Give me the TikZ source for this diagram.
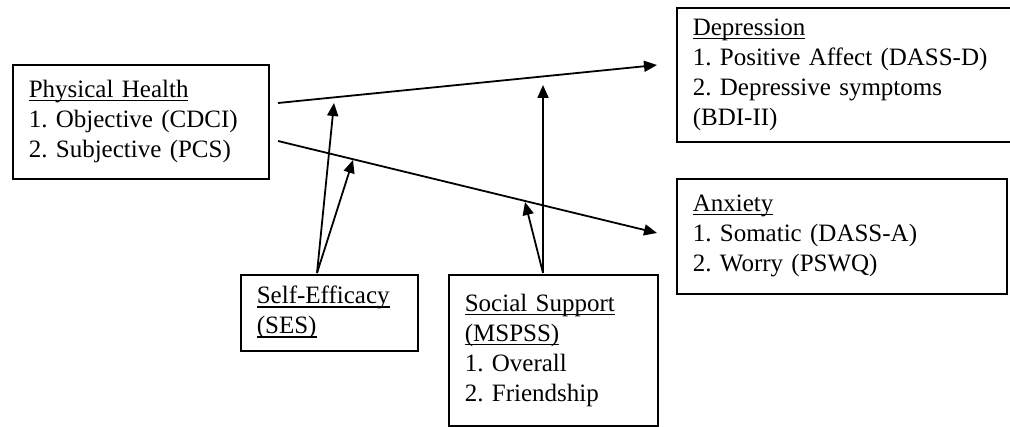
\documentclass[tikz,border=0pt]{standalone}
\usepackage{fontspec}
\setmainfont{Liberation Serif}
\usetikzlibrary{arrows.meta}

% heading with a rule under it
\newcommand{\hdr}[1]{\leavevmode\setbox0\hbox{#1}\rlap{\rule[-1.8pt]{\wd0}{0.6pt}}\box0}

\tikzset{
  box/.style={draw, line width=0.8pt, anchor=north west, align=left,
    inner xsep=8pt, inner ysep=0pt, font=\fontsize{12.5}{15}\selectfont\frenchspacing},
  arr/.style={-{Triangle[length=6.5pt,width=5.5pt]}, line width=0.9pt},
}

\begin{document}
\begin{tikzpicture}[x=0.5pt,y=-0.5pt]
        \useasboundingbox (0,0) rectangle (1010,427) ;
        % boxes
        \node[box, text width=112pt, minimum height=57pt] (phys) at (12,64)
        {\hdr{Physical Health}\\1. Objective (CDCI)\\2. Subjective (PCS)} ;
        \node[box, text width=154pt, minimum height=67pt] (dep) at (676,7)
        {\hdr{Depression}\\1. Positive Affect (DASS-D)\\2. Depressive symptoms\\(BDI-II)} ;
        \node[box, text width=149pt, minimum height=57.5pt] (anx) at (676,178)
        {\hdr{Anxiety}\\1. Somatic (DASS-A)\\2. Worry (PSWQ)} ;
        \node[box, text width=72.5pt, minimum height=38pt] (ses) at (240,274)
        {\hdr{Self-Efficacy}\\\hdr{(SES)}} ;
        \node[box, text width=88.5pt, minimum height=75.5pt] (sup) at (448,274)
        {\hdr{Social Support}\\\hdr{(MSPSS)}\\1. Overall\\2. Friendship} ;
        % end points of the paths
        \coordinate (physA) at (278,103) ;
        \coordinate (physB) at (278,141) ;
        \coordinate (depIn) at (657,65) ;
        \coordinate (anxIn) at (657,233) ;
        \coordinate (sesOut) at (317,273) ;
        \coordinate (supOut) at (543,273) ;
        \coordinate (modA) at (334,103) ;
        \coordinate (modB) at (353,160) ;
        \coordinate (modC) at (543,85) ;
        \coordinate (modD) at (525,202) ;
        % main paths
        \draw[arr] (physA) -- (depIn) ;
        \draw[arr] (physB) -- (anxIn) ;
        % moderators
        \draw[arr] (sesOut) -- (modA) ;
        \draw[arr] (sesOut) -- (modB) ;
        \draw[arr] (supOut) -- (modC) ;
        \draw[arr] (supOut) -- (modD) ;
      \end{tikzpicture}
\end{document}
